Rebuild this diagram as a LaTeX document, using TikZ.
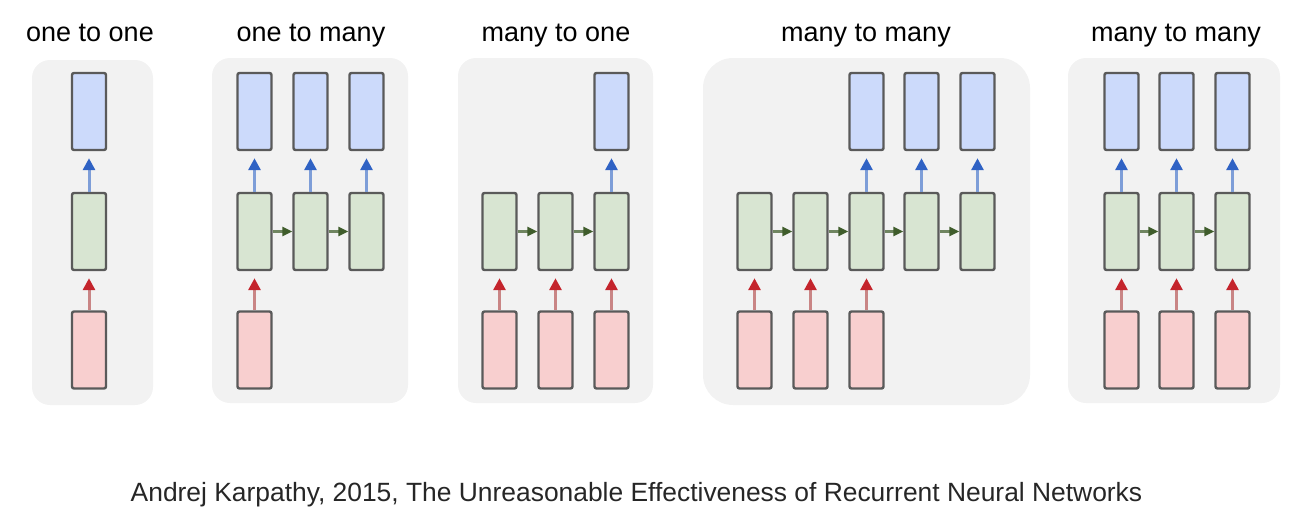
\documentclass[tikz,border=0pt]{standalone}
\usepackage{fontspec}
\setmainfont{Liberation Sans}
\usetikzlibrary{arrows.meta}
\definecolor{panelbg}{HTML}{F2F2F2}
\definecolor{boxline}{HTML}{5A5A5A}
\definecolor{outfill}{HTML}{CCDAFB}
\definecolor{hidfill}{HTML}{D8E5D2}
\definecolor{infill}{HTML}{F8CFCF}
\definecolor{bluehead}{HTML}{2F62C4}
\definecolor{blueshaft}{HTML}{7E9ED8}
\definecolor{redhead}{HTML}{C4242C}
\definecolor{redshaft}{HTML}{C98585}
\definecolor{greenarr}{HTML}{3F5C2B}
\tikzset{
  panel/.style={fill=panelbg, draw=none, rounded corners=18pt},
  cell/.style={draw=boxline, line width=2.4pt, rounded corners=2pt, minimum width=34pt, minimum height=77pt, inner sep=0pt},
  outbox/.style={cell, fill=outfill},
  hidbox/.style={cell, fill=hidfill},
  inbox/.style={cell, fill=infill},
  upblue/.style={draw=blueshaft, line width=3pt, -{Triangle[length=12pt,width=12pt,fill=bluehead,color=bluehead]}, shorten >=7pt},
  upred/.style={draw=redshaft, line width=3pt, -{Triangle[length=12pt,width=12pt,fill=redhead,color=redhead]}, shorten >=7pt},
  rec/.style={draw=greenarr!75, line width=2.4pt, -{Triangle[length=10pt,width=9pt,fill=greenarr,color=greenarr]}},
  title/.style={font=\fontsize{27}{32}\selectfont, text=black, inner sep=0pt, anchor=base},
  caption/.style={font=\fontsize{26.4}{31}\selectfont, text=black!85, inner sep=0pt, anchor=base}
}
\begin{document}
\begin{tikzpicture}[x=1pt,y=-1pt]
\useasboundingbox (0,0) rectangle (1314,517);
% panels
\fill[panel] (32,60) rectangle (153,405);
\fill[panel] (212,58) rectangle (408,403);
\fill[panel] (458,58) rectangle (653,403);
\fill[panel, rounded corners=30pt] (703,58) rectangle (1030,405);
\fill[panel] (1068,58) rectangle (1280,403);
% titles
\node[title] (t1) at (90,41) {one to one};
\node[title] (t2) at (311,41) {one to many};
\node[title] (t3) at (556,41) {many to one};
\node[title] (t4) at (866,41) {many to many};
\node[title] (t5) at (1176,41) {many to many};
% panel 1
\node[outbox] (ao) at (89,111.5) {};
\node[hidbox] (ah) at (89,231.5) {};
\node[inbox] (ai) at (89,350) {};
\draw[upblue] (ah.north) -- (ao.south);
\draw[upred] (ai.north) -- (ah.south);
% panel 2
\foreach \n/\x in {1/254.5,2/310.5,3/366.5}{
  \node[outbox] (bo\n) at (\x,111.5) {};
  \node[hidbox] (bh\n) at (\x,231.5) {};
  \draw[upblue] (bh\n.north) -- (bo\n.south);
}
\node[inbox] (bi1) at (254.5,350) {};
\draw[upred] (bi1.north) -- (bh1.south);
\draw[rec] (bh1.east) -- (bh2.west);
\draw[rec] (bh2.east) -- (bh3.west);
% panel 3
\foreach \n/\x in {1/499.5,2/555.5,3/611.5}{
  \node[hidbox] (ch\n) at (\x,231.5) {};
  \node[inbox] (ci\n) at (\x,350) {};
  \draw[upred] (ci\n.north) -- (ch\n.south);
}
\node[outbox] (co3) at (611.5,111.5) {};
\draw[upblue] (ch3.north) -- (co3.south);
\draw[rec] (ch1.east) -- (ch2.west);
\draw[rec] (ch2.east) -- (ch3.west);
% panel 4
\foreach \n/\x in {1/754.5,2/810.5,3/866.5,4/921.5,5/977.5}{
  \node[hidbox] (dh\n) at (\x,231.5) {};
}
\foreach \n/\x in {1/754.5,2/810.5,3/866.5}{
  \node[inbox] (di\n) at (\x,350) {};
  \draw[upred] (di\n.north) -- (dh\n.south);
}
\foreach \n/\x in {3/866.5,4/921.5,5/977.5}{
  \node[outbox] (do\n) at (\x,111.5) {};
  \draw[upblue] (dh\n.north) -- (do\n.south);
}
\draw[rec] (dh1.east) -- (dh2.west);
\draw[rec] (dh2.east) -- (dh3.west);
\draw[rec] (dh3.east) -- (dh4.west);
\draw[rec] (dh4.east) -- (dh5.west);
% panel 5
\foreach \n/\x in {1/1121.5,2/1176.5,3/1232.5}{
  \node[outbox] (eo\n) at (\x,111.5) {};
  \node[hidbox] (eh\n) at (\x,231.5) {};
  \node[inbox] (ei\n) at (\x,350) {};
  \draw[upblue] (eh\n.north) -- (eo\n.south);
  \draw[upred] (ei\n.north) -- (eh\n.south);
}
\draw[rec] (eh1.east) -- (eh2.west);
\draw[rec] (eh2.east) -- (eh3.west);
% caption
\node[caption] (cap) at (636.5,501) {Andrej Karpathy, 2015, The Unreasonable Effectiveness of Recurrent Neural Networks};
\end{tikzpicture}
\end{document}
